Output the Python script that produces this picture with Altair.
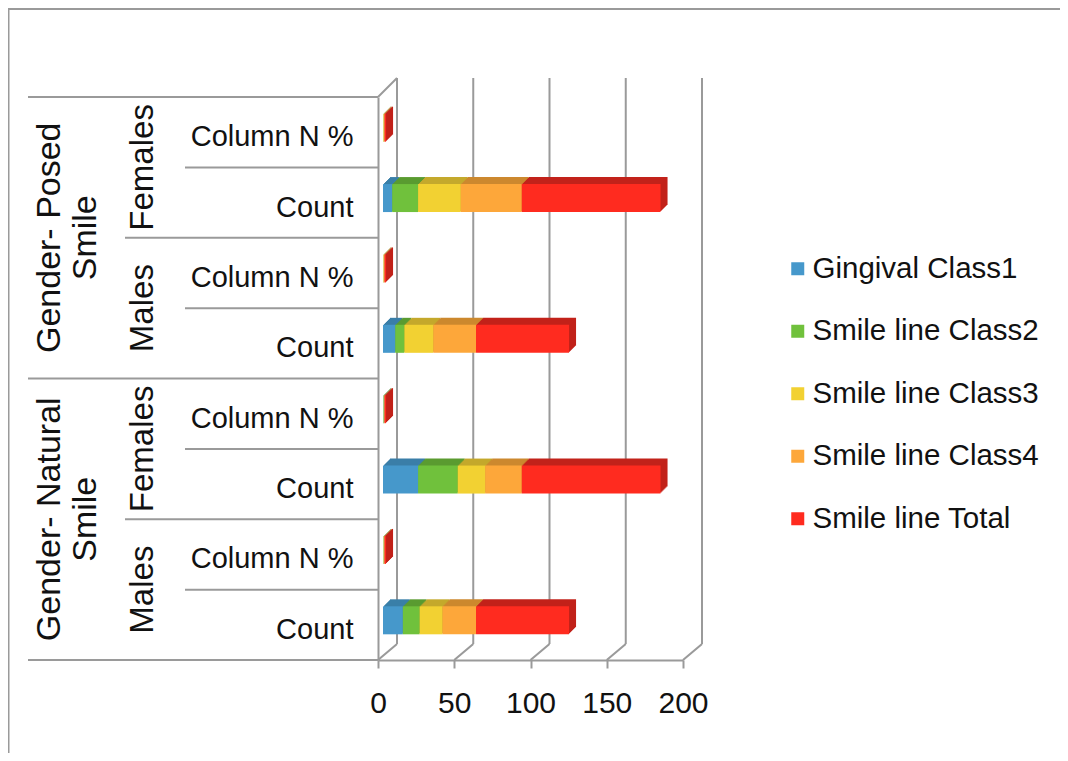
import altair as alt
import pandas as pd

# ---------------- data ----------------
series = ["Gingival Class1", "Smile line Class2", "Smile line Class3",
          "Smile line Class4", "Smile line Total"]
groups = ["Gender- Posed\nSmile", "Gender- Natural\nSmile"]
genders = ["Females", "Males"]
stats = ["Column N %", "Count"]
x_ticks = [0, 50, 100, 150, 200]

posed_females_pct = [0.07, 0.19, 0.31, 0.44, 1.00]
posed_females_count = [6, 17, 28, 40, 91]
posed_males_pct = [0.13, 0.10, 0.31, 0.46, 1.00]
posed_males_count = [8, 6, 19, 28, 61]
natural_females_pct = [0.25, 0.29, 0.20, 0.26, 1.00]
natural_females_count = [23, 26, 18, 24, 91]
natural_males_pct = [0.21, 0.18, 0.25, 0.36, 1.00]
natural_males_count = [13, 11, 15, 22, 61]

row_values = [
    (groups[0], genders[0], stats[0], posed_females_pct),
    (groups[0], genders[0], stats[1], posed_females_count),
    (groups[0], genders[1], stats[0], posed_males_pct),
    (groups[0], genders[1], stats[1], posed_males_count),
    (groups[1], genders[0], stats[0], natural_females_pct),
    (groups[1], genders[0], stats[1], natural_females_count),
    (groups[1], genders[1], stats[0], natural_males_pct),
    (groups[1], genders[1], stats[1], natural_males_count),
]

front_colors = ["#4698CB", "#70C13C", "#F2D132", "#FDA73A", "#FF2B1F"]
dark_colors = ["#3A7FA8", "#5A9B30", "#C4A92C", "#CC882E", "#C2221A"]
line_color = "#9a9a9a"
font = "Liberation Sans"

records = []
row_keys = []
for g, gen, st, vals in row_values:
    key = f"{g}|{gen}|{st}"
    row_keys.append(key)
    for i, (s, v) in enumerate(zip(series, vals)):
        records.append(dict(key=key, group=g, gender=gen, stat=st,
                            series=s, idx=i, value=v))
df = pd.DataFrame(records)
ticks_df = pd.DataFrame({"tick": x_ticks})

W, H = 305, 563
PAD_L, PAD_T = 370, 89

xscale = alt.Scale(domain=[0, 200], nice=False, zero=True)
yscale = alt.Scale(domain=row_keys, paddingInner=0, paddingOuter=0)

# ---------------- 3D frame: back gridlines + floor diagonals ----------------
back_grid = alt.Chart(ticks_df).mark_rule(
    color=line_color, strokeWidth=2, xOffset=19
).encode(
    x=alt.X("tick:Q", scale=xscale),
    y=alt.value(-19), y2=alt.value(H - 16),
)
floor_diag = alt.Chart(ticks_df).mark_rule(
    color=line_color, strokeWidth=2, x2Offset=19
).encode(
    x=alt.X("tick:Q", scale=xscale),
    x2=alt.X2("tick"),
    y=alt.value(H), y2=alt.value(H - 16),
)
top_diag = alt.Chart(ticks_df).transform_filter(alt.datum.tick == 0).mark_rule(
    color=line_color, strokeWidth=2, x2Offset=19
).encode(
    x=alt.X("tick:Q", scale=xscale),
    x2=alt.X2("tick"),
    y=alt.value(0), y2=alt.value(-19),
)

# ---------------- bars: extruded depth faces + front face ----------------
DEPTH = 7
depth_layers = []
for k in range(DEPTH, 0, -1):
    depth_layers.append(
        alt.Chart(df).mark_bar(
            size=28, xOffset=5 + k, x2Offset=5 + k, yOffset=-4.5 - k
        ).encode(
            x=alt.X("value:Q", stack="zero", scale=xscale),
            y=alt.Y("key:N", scale=yscale, sort=row_keys),
            color=alt.Color("series:N",
                            scale=alt.Scale(domain=series, range=dark_colors),
                            legend=None),
            order=alt.Order("idx:Q", sort="ascending"),
        )
    )

front = alt.Chart(df).mark_bar(
    size=28, xOffset=5, x2Offset=5, yOffset=-4.5
).encode(
    x=alt.X("value:Q", stack="zero", scale=xscale,
            axis=alt.Axis(values=x_ticks, title=None, grid=False,
                          domainColor=line_color, domainWidth=2,
                          tickColor=line_color, tickWidth=2, tickSize=8,
                          labelFontSize=30, labelFont=font, labelColor="#111",
                          labelPadding=20, labelFlush=False)),
    y=alt.Y("key:N", scale=yscale, sort=row_keys,
            axis=alt.Axis(title=None, ticks=False, domainColor=line_color,
                          domainWidth=2, labelFontSize=29, labelFont=font,
                          labelColor="#111", labelPadding=25, labelOffset=5,
                          labelLimit=400,
                          labelExpr="split(datum.value, '|')[2]")),
    color=alt.Color("series:N", scale=alt.Scale(domain=series, range=front_colors),
                    legend=alt.Legend(orient="none", legendX=405, legendY=157,
                                      title=None, symbolType="square",
                                      symbolSize=169, symbolStrokeWidth=0,
                                      labelFontSize=29.5, labelFont=font,
                                      labelColor="#111", rowPadding=31.5,
                                      labelOffset=0, labelLimit=400, padding=0)),
    order=alt.Order("idx:Q", sort="ascending"),
)

# ---------------- left table lines ----------------
def table_rule(filter_expr, x_start, band_pos=0.0):
    return alt.Chart(df).transform_filter(filter_expr).mark_rule(
        color=line_color, strokeWidth=2
    ).encode(
        y=alt.Y("key:N", scale=yscale, bandPosition=band_pos),
        x=alt.value(x_start), x2=alt.value(0),
    )

stat_lines = table_rule((alt.datum.stat == "Count") & (alt.datum.idx == 0), -193)
gender_lines = table_rule((alt.datum.gender == "Males") & (alt.datum.stat == "Column N %")
                          & (alt.datum.idx == 0), -253)
group_lines = table_rule((alt.datum.gender == "Females") & (alt.datum.stat == "Column N %")
                         & (alt.datum.idx == 0), -350)
bottom_line = table_rule((alt.datum.key == row_keys[-1]) & (alt.datum.idx == 0), -350, 1.0)

# ---------------- left hierarchical labels ----------------
gender_text = alt.Chart(df).transform_filter(
    (alt.datum.stat == "Count") & (alt.datum.idx == 0)
).mark_text(angle=270, align="center", baseline="middle", fontSize=33,
            font=font, color="#111").encode(
    y=alt.Y("key:N", scale=yscale, bandPosition=0),
    x=alt.value(-235),
    text="gender:N",
)
group_text = alt.Chart(df).transform_filter(
    (alt.datum.gender == "Males") & (alt.datum.stat == "Column N %") & (alt.datum.idx == 0)
).mark_text(angle=270, align="center", baseline="middle", fontSize=34,
            font=font, color="#111", lineBreak="\n", lineHeight=36).encode(
    y=alt.Y("key:N", scale=yscale, bandPosition=0),
    x=alt.value(-328),
    text="group:N",
)

# ---------------- outer frame ----------------
one = alt.Chart(ticks_df).transform_filter(alt.datum.tick == 0)
frame_top = one.mark_rule(color=line_color, strokeWidth=3).encode(
    y=alt.value(-88.5), x=alt.value(-372), x2=alt.value(W + 390))
frame_left = one.mark_rule(color=line_color, strokeWidth=3).encode(
    x=alt.value(-370), y=alt.value(-90), y2=alt.value(H + 110))

chart = alt.layer(
    back_grid, floor_diag, top_diag, *depth_layers, front,
    stat_lines, gender_lines, group_lines, bottom_line,
    gender_text, group_text, frame_top, frame_left,
).resolve_scale(color="independent").properties(
    width=W, height=H,
    padding={"left": PAD_L, "top": PAD_T, "right": 1052 - PAD_L - W,
             "bottom": 745 - PAD_T - H},
    autosize="none",
    background="white",
).configure_view(stroke=None)

chart.save("out.html", embed_options={"renderer": "svg", "actions": False})
